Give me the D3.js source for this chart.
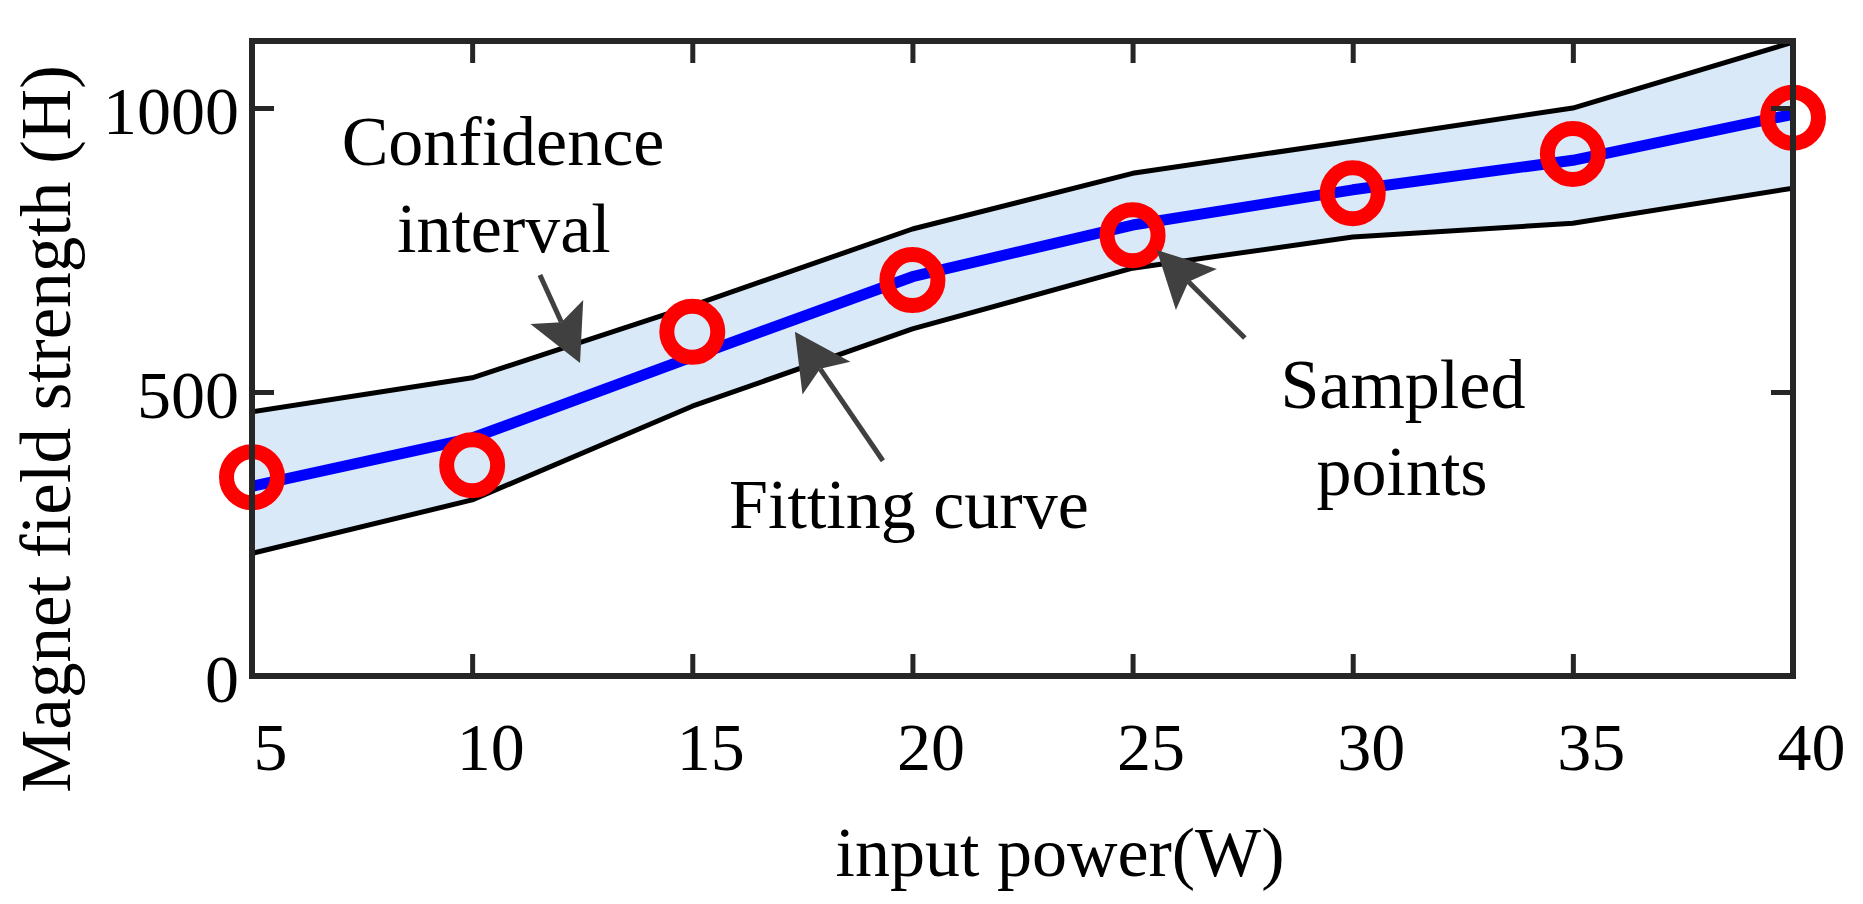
<!DOCTYPE html>
<html>
<head>
<meta charset="utf-8">
<script src="https://cdn.jsdelivr.net/npm/d3@7"></script>
<style>
  body { margin: 0; background: #fff; }
  text { font-family: "Liberation Serif", "Times New Roman", serif; fill: #000; }
</style>
</head>
<body>
<script>
const width = 1863;
const height = 904;

var power = [5, 10, 15, 20, 25, 30, 35, 40];
var sampled = [350, 371, 606, 697, 776, 850, 919, 983];
var fitted = [334, 419, 562, 703, 794, 856, 908, 989];
var upper = [465, 525, 652, 787, 885, 942, 1000, 1116];
var lower = [216, 310, 475, 611, 718, 773, 797, 859];

var xTicks = [5, 10, 15, 20, 25, 30, 35, 40];
var yTicks = [0, 500, 1000];

// annotations, in data units
var notes = [
  {text: "Confidence", x: 10.70, y: 900},
  {text: "interval", x: 10.72, y: 746},
  {text: "Fitting curve", x: 19.92, y: 261},
  {text: "Sampled", x: 31.14, y: 472},
  {text: "points", x: 31.12, y: 319}
];
var arrows = [
  {x0: 11.54, y0: 706, x1: 12.45, y1: 551},
  {x0: 19.33, y0: 379, x1: 17.33, y1: 606},
  {x0: 27.55, y0: 595, x1: 25.55, y1: 750}
];

const mLeft = 252, mRight = 1793, mTop = 41, mBottom = 676;

var x = d3.scaleLinear().domain([5, 40]).range([mLeft, mRight]);
var y = d3.scaleLinear().domain([0, 1118]).range([mBottom, mTop]);

const svg = d3.select("body").append("svg")
  .attr("width", width)
  .attr("height", height);

svg.append("clipPath").attr("id", "plot")
  .append("rect")
  .attr("x", mLeft).attr("y", mTop)
  .attr("width", mRight - mLeft).attr("height", mBottom - mTop);

var rows = power.map(function(p, i) {
  return {p: p, s: sampled[i], f: fitted[i], hi: upper[i], lo: lower[i]};
});

var band = svg.append("g").attr("clip-path", "url(#plot)");

band.append("path")
  .datum(rows)
  .attr("fill", "#d9e9f8")
  .attr("d", d3.area()
    .x(function(d) { return x(d.p); })
    .y0(function(d) { return y(d.lo); })
    .y1(function(d) { return y(d.hi); }));

["hi", "lo"].forEach(function(k) {
  band.append("path")
    .datum(rows)
    .attr("fill", "none")
    .attr("stroke", "#000")
    .attr("stroke-width", 5)
    .attr("stroke-linejoin", "round")
    .attr("d", d3.line()
      .x(function(d) { return x(d.p); })
      .y(function(d) { return y(d[k]); }));
});

band.append("path")
  .datum(rows)
  .attr("fill", "none")
  .attr("stroke", "#0000ff")
  .attr("stroke-width", 11)
  .attr("stroke-linejoin", "round")
  .attr("d", d3.line()
    .x(function(d) { return x(d.p); })
    .y(function(d) { return y(d.f); }));

svg.append("g")
  .selectAll("circle")
  .data(rows)
  .enter().append("circle")
    .attr("cx", function(d) { return x(d.p); })
    .attr("cy", function(d) { return y(d.s); })
    .attr("r", 25.5)
    .attr("fill", "none")
    .attr("stroke", "#ff0000")
    .attr("stroke-width", 15);

// arrows (vback style heads)
var arrowG = svg.append("g");
arrows.forEach(function(a) {
  var tx = x(a.x0), ty = y(a.y0), px = x(a.x1), py = y(a.y1);
  var dx = px - tx, dy = py - ty, len = Math.sqrt(dx * dx + dy * dy);
  var ux = dx / len, uy = dy / len, nx = -uy, ny = ux;
  var L = 56, W = 29;
  var bx = px - ux * L, by = py - uy * L;
  var mx = px - ux * L * 0.8, my = py - uy * L * 0.8;
  arrowG.append("line")
    .attr("x1", tx).attr("y1", ty)
    .attr("x2", mx).attr("y2", my)
    .attr("stroke", "#404040")
    .attr("stroke-width", 5);
  arrowG.append("path")
    .attr("fill", "#404040")
    .attr("d", "M" + px + "," + py +
      "L" + (bx + nx * W) + "," + (by + ny * W) +
      "L" + mx + "," + my +
      "L" + (bx - nx * W) + "," + (by - ny * W) + "Z");
});

svg.append("g")
  .selectAll("text")
  .data(notes)
  .enter().append("text")
    .attr("x", function(d) { return x(d.x); })
    .attr("y", function(d) { return y(d.y); })
    .attr("text-anchor", "middle")
    .style("font-size", "70px")
    .text(function(d) { return d.text; });

// axes box
var axisColor = "#262626";

var xAxis = svg.append("g")
  .attr("transform", "translate(0," + mBottom + ")")
  .call(d3.axisBottom(x).tickValues(xTicks).tickSizeInner(-22).tickSizeOuter(0));
xAxis.selectAll("text")
  .attr("x", 18).attr("y", 94).attr("dy", 0)
  .style("font-size", "68px")
  .style("font-family", "Liberation Serif");

var xTop = svg.append("g")
  .attr("transform", "translate(0," + mTop + ")")
  .call(d3.axisTop(x).tickValues(xTicks).tickSizeInner(-22).tickSizeOuter(0).tickFormat(""));

var yAxis = svg.append("g")
  .attr("transform", "translate(" + mLeft + ",0)")
  .call(d3.axisLeft(y).tickValues(yTicks).tickFormat(d3.format("d"))
    .tickSizeInner(-22).tickSizeOuter(0).tickPadding(13));
yAxis.selectAll("text")
  .attr("dy", "0.38em")
  .style("font-size", "68px")
  .style("font-family", "Liberation Serif");

var yRight = svg.append("g")
  .attr("transform", "translate(" + mRight + ",0)")
  .call(d3.axisRight(y).tickValues(yTicks).tickSizeInner(-22).tickSizeOuter(0).tickFormat(""));

[xAxis, xTop, yAxis, yRight].forEach(function(g) {
  g.selectAll(".domain").remove();
  g.selectAll("line").attr("stroke", axisColor).attr("stroke-width", 5);
  g.selectAll("text").attr("fill", "#000");
});

svg.append("rect")
  .attr("x", mLeft).attr("y", mTop)
  .attr("width", mRight - mLeft).attr("height", mBottom - mTop)
  .attr("fill", "none")
  .attr("stroke", axisColor)
  .attr("stroke-width", 6);

svg.append("text")
  .attr("x", 1060)
  .attr("y", 876)
  .attr("text-anchor", "middle")
  .style("font-size", "70px")
  .text("input power(W)");

svg.append("text")
  .attr("transform", "translate(70,429) rotate(-90)")
  .attr("text-anchor", "middle")
  .style("font-size", "71px")
  .text("Magnet field strength (H)");
</script>
</body>
</html>
